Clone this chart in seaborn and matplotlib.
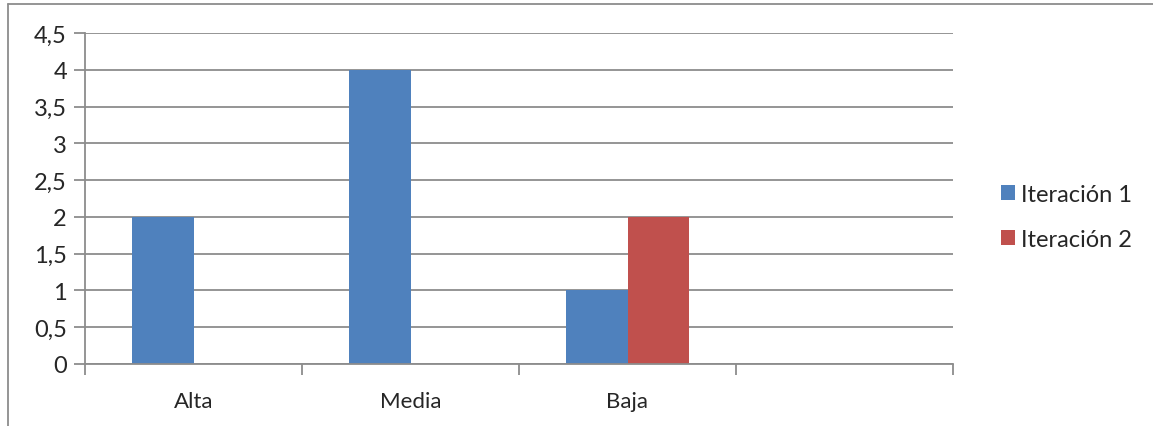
import pandas as pd
import matplotlib.pyplot as plt
import seaborn as sns
from matplotlib.patches import Patch
from matplotlib.lines import Line2D

categorias = ['Alta', 'Media', 'Baja', '']
iteracion_1 = [2, 4, 1]
iteracion_2 = [0, 0, 2]
series = ['Iteración 1', 'Iteración 2']
colores = ['#4F81BD', '#C0504D']
yticks = [0, 0.5, 1, 1.5, 2, 2.5, 3, 3.5, 4, 4.5]

df = pd.DataFrame({
    'nivel': categorias[:3] * 2,
    'valor': iteracion_1 + iteracion_2,
    'serie': [series[0]] * 3 + [series[1]] * 3,
})

sns.set_style("white", {'xtick.bottom': True, 'ytick.left': True})
plt.rcParams['font.family'] = ['Lato', 'DejaVu Sans']

fig = plt.figure(figsize=(11.53, 4.27), dpi=100)
ax = fig.add_axes([85 / 1153, 1 - 365 / 427, 868 / 1153, 331 / 427])

sns.barplot(data=df, x='nivel', y='valor', hue='serie', order=categorias,
            palette=colores, saturation=1, width=0.57, linewidth=0, ax=ax, legend=False)

ax.set_ylim(0, 4.5)
ax.set_xlim(-0.5, 3.5)
ax.set_yticks(yticks)
ax.set_yticklabels([f'{v:g}'.replace('.', ',') for v in yticks], fontsize=17)
ax.set_xticks(range(4))
ax.set_xticklabels(categorias, fontsize=16)
ax.set_xticks([-0.5, 0.5, 1.5, 2.5, 3.5], minor=True)
ax.tick_params(axis='x', which='major', bottom=False, pad=16)
ax.tick_params(axis='x', which='minor', bottom=True, length=8, width=1.3,
               color='#8c8c8c', direction='out')
ax.tick_params(axis='y', which='major', left=True, length=8, width=1.3,
               color='#8c8c8c', direction='out', pad=5)
ax.set_xlabel('')
ax.set_ylabel('')

ax.grid(axis='y', color='#8c8c8c', linewidth=1.3)
ax.set_axisbelow(True)
for s in ['top', 'right']:
    ax.spines[s].set_visible(False)
for s in ['left', 'bottom']:
    ax.spines[s].set_color('#8c8c8c')
    ax.spines[s].set_linewidth(1.3)

handles = [Patch(facecolor=c, edgecolor='none') for c in colores]
fig.legend(handles, series, loc='center left', bbox_to_anchor=(980 / 1153, 1 - 218 / 427),
           frameon=False, fontsize=17, handlelength=0.6, handleheight=0.6,
           handletextpad=0.25, labelspacing=1.0)

# borde exterior del gráfico
fig.add_artist(Line2D([8 / 1153, 8 / 1153], [0, 1 - 5 / 427], transform=fig.transFigure,
                      color='#8c8c8c', linewidth=1.3))
fig.add_artist(Line2D([8 / 1153, 1], [1 - 5 / 427, 1 - 5 / 427], transform=fig.transFigure,
                      color='#8c8c8c', linewidth=1.3))

plt.savefig('out.png', dpi=100)
